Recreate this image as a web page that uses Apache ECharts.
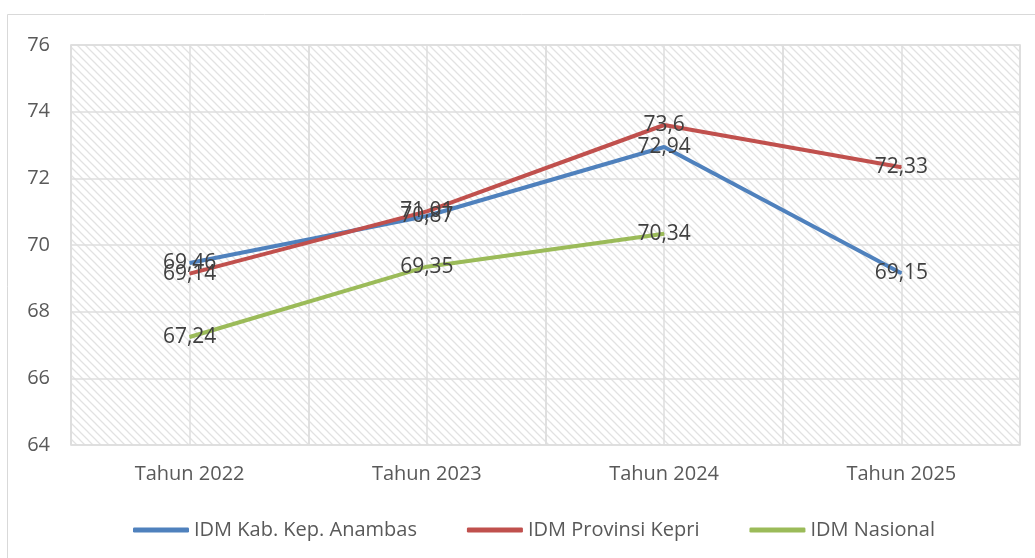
<!DOCTYPE html>
<html>
<head>
<meta charset="utf-8">
<script src="https://cdn.jsdelivr.net/npm/echarts@6/dist/echarts.min.js"></script>
<style>
html, body { margin: 0; padding: 0; background: #fff; }
#main { width: 1035px; height: 558px; }
</style>
</head>
<body>
<div id="main"></div>
<script>
var categories = ['Tahun 2022', 'Tahun 2023', 'Tahun 2024', 'Tahun 2025'];
var anambas = [69.46, 70.87, 72.94, 69.15];
var kepri = [69.14, 71.01, 73.6, 72.33];
var nasional = [67.24, 69.35, 70.34, null];
var seriesNames = ['IDM Kab. Kep. Anambas', 'IDM Provinsi Kepri', 'IDM Nasional'];
var colors = ['#4F81BD', '#C0504D', '#9BBB59'];

var FONT = '"Open Sans", "Noto Sans", sans-serif';

// diagonal hatch for the plot area
var hatch = document.createElement('canvas');
hatch.width = 8;
hatch.height = 8;
var hctx = hatch.getContext('2d');
hctx.fillStyle = '#ffffff';
hctx.fillRect(0, 0, 8, 8);
hctx.strokeStyle = '#e2e2e2';
hctx.lineWidth = 1.3;
hctx.beginPath();
hctx.moveTo(-1, -1); hctx.lineTo(9, 9);
hctx.moveTo(-1, 7); hctx.lineTo(1, 9);
hctx.moveTo(7, -1); hctx.lineTo(9, 1);
hctx.stroke();

var chartDom = document.getElementById('main');
var myChart = echarts.init(chartDom);

function fmt(p) {
    return String(p.value).replace('.', ',');
}

function makeSeries(i, data) {
    return {
        name: seriesNames[i],
        type: 'line',
        data: data,
        symbol: 'circle',
        symbolSize: 1,
        color: colors[i],
        lineStyle: { width: 4, color: colors[i] },
        itemStyle: { color: colors[i] },
        label: {
            show: true,
            position: 'inside',
            formatter: fmt,
            color: '#404040',
            fontSize: 21,
            fontFamily: FONT
        },
        emphasis: { disabled: true },
        z: 5
    };
}

var option = {
    animation: false,
    backgroundColor: '#fff',
    graphic: [{
        type: 'rect',
        shape: { x: 7.5, y: 14.5, width: 1100, height: 600 },
        style: { fill: 'none', stroke: '#d9d9d9', lineWidth: 1 },
        silent: true
    }],
    grid: {
        left: 71,
        right: 15,
        top: 45,
        bottom: 113,
        show: true,
        borderColor: '#d9d9d9',
        borderWidth: 1.5,
        backgroundColor: { image: hatch, repeat: 'repeat' }
    },
    legend: {
        bottom: 13,
        left: 128,
        itemWidth: 56,
        itemHeight: 5,
        itemGap: 50,
        icon: 'roundRect',
        data: seriesNames,
        textStyle: { color: '#595959', fontSize: 20, fontFamily: FONT }
    },
    xAxis: [{
        type: 'category',
        data: categories,
        boundaryGap: true,
        axisLine: { show: false },
        axisTick: { show: false },
        axisLabel: { color: '#595959', fontSize: 20, fontFamily: FONT, margin: 19 },
        splitLine: { show: true, lineStyle: { color: '#dedede', width: 1.5 } }
    }, {
        type: 'value',
        min: 0,
        max: 8,
        interval: 1,
        position: 'bottom',
        axisLine: { show: false },
        axisTick: { show: false },
        axisLabel: { show: false },
        splitLine: { show: true, lineStyle: { color: '#dedede', width: 1.5 } }
    }],
    yAxis: {
        type: 'value',
        min: 64,
        max: 76,
        interval: 2,
        axisLine: { show: false },
        axisTick: { show: false },
        axisLabel: { color: '#595959', fontSize: 20, fontFamily: FONT, margin: 21 },
        splitLine: { show: true, lineStyle: { color: '#dedede', width: 1.5 } }
    },
    series: [
        makeSeries(0, anambas),
        makeSeries(1, kepri),
        makeSeries(2, nasional)
    ]
};

option && myChart.setOption(option);
</script>
</body>
</html>
